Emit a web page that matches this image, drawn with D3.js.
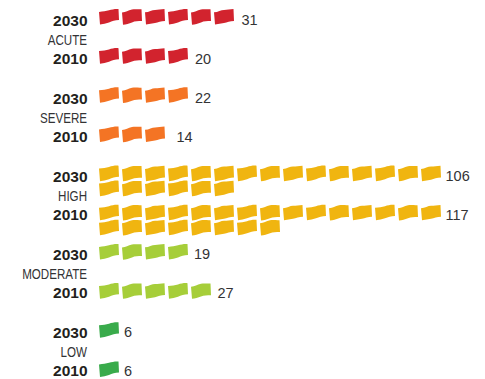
<!DOCTYPE html>
<html>
<head>
<meta charset="utf-8">
<script src="https://cdn.jsdelivr.net/npm/d3@7"></script>
<style>
html, body { margin: 0; padding: 0; background: #fff; }
svg { display: block; }
.year { font: bold 15.5px "Liberation Sans", sans-serif; fill: #231f20; text-anchor: end; }
.cat { font: 14.5px "Liberation Sans", sans-serif; fill: #333335; text-anchor: end; }
.val { font: 14.5px "Liberation Sans", sans-serif; fill: #333335; }
</style>
</head>
<body>
<div id="container"></div>
<script>
const categories = ["ACUTE", "SEVERE", "HIGH", "MODERATE", "LOW"];
const years = ["2030", "2010"];
const values_2030 = [31, 22, 106, 19, 6];
const values_2010 = [20, 14, 117, 27, 6];
const colors = ["#d2232e", "#f47424", "#f0b510", "#a6ce39", "#39ab4b"];

const per_flag = 5;
const per_row = 15;
const width = 485, height = 379;

// flag outline, one flag drawn around its centre
const flag_paths = [
    "M-10,-4.6 C-6,-5 -3,-5.4 0,-6.2 C3,-7 6,-7.8 9.5,-7.5 L10,3.6 C6,3.8 3,4.8 0,6 C-3,7.1 -6,7.6 -9,8 Z",
    "M-10,-4 C-6,-4.2 -4,-6 0,-7 C3,-7.6 6,-7 9.5,-7.2 L10,4.6 C6,4.6 3,4.6 0,5.9 C-3,7 -6,7.9 -9,8.2 Z",
    "M-10,-4.2 C-6,-4.4 -3,-6.6 0,-6.6 C3,-6.6 6,-7.4 9.5,-7.4 L10,4.4 C6,4.4 3,5.9 0,6.5 C-3,7 -6,7.8 -9,8 Z"
];

// the value labels are not all the same distance from their flags
const label_gap = {31: 17.5, 20: 17, 22: 17, 14: 21.5, 106: 14.5, 117: 14.5, 19: 16, 27: 16.5, 6: 15};

var rows = [];
categories.forEach(function(c, i){
    rows.push({cat: c, year: years[0], val: values_2030[i], color: colors[i], group: i, side: -1});
    rows.push({cat: c, year: years[1], val: values_2010[i], color: colors[i], group: i, side: 1});
});

var svg = d3.select("#container").append("svg")
    .attr("width", width)
    .attr("height", height);

var y = d3.scalePoint()
    .domain(d3.range(rows.length))
    .range([16.5, 369]);

// text baselines go by category
var cat_y = d3.scalePoint()
    .domain(d3.range(categories.length))
    .range([45, 357]);

// column of a flag to its centre
var x = d3.scaleLinear()
    .domain([0, per_row - 1])
    .range([109, 431]);

var row_gap = 15;
var year_off = 18.7;

var baseline = function(d){
    return cat_y(d.group) + d.side * year_off;
};

var flag_rows = svg.selectAll("g.row")
    .data(rows)
    .enter()
    .append("g")
    .classed("row", true)
    .attr("transform", function(d, i){ return "translate(0," + y(i) + ")"; });

flag_rows.selectAll("path")
    .data(function(d){
	return d3.range(Math.round(d.val / per_flag)).map(function(n){
	    return {n: n, color: d.color};
	});
    })
    .enter()
    .append("path")
    .attr("d", function(a){ return flag_paths[a.n % flag_paths.length]; })
    .attr("fill", function(a){ return a.color; })
    .attr("transform", function(a){
	return "translate(" + x(a.n % per_row) + "," + (Math.floor(a.n / per_row) * row_gap) + ")";
    });

svg.selectAll("text.year")
    .data(rows)
    .enter()
    .append("text")
    .classed("year", true)
    .attr("x", 87.5)
    .attr("y", baseline)
    .text(function(d){ return d.year; });

svg.selectAll("text.val")
    .data(rows)
    .enter()
    .append("text")
    .classed("val", true)
    .attr("x", function(d){
	var n = Math.min(Math.round(d.val / per_flag), per_row);
	return x(n - 1) + label_gap[d.val];
    })
    .attr("y", function(d){ return baseline(d) + (d.side < 0 ? -1 : 0.7); })
    .text(function(d){ return d.val; });

// no narrow face installed, so squeeze the regular one
svg.selectAll("text.cat")
    .data(categories)
    .enter()
    .append("text")
    .classed("cat", true)
    .attr("transform", function(d, i){
	return "translate(87," + cat_y(i) + ") scale(0.8,1)";
    })
    .text(function(d){ return d; });
</script>
</body>
</html>
